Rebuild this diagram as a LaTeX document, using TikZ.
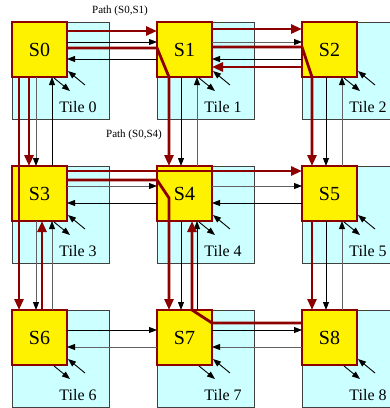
\documentclass[tikz,border=0pt]{standalone}
\usepackage{fontspec}
\setmainfont{Liberation Serif}
\usepackage{xcolor}
\usetikzlibrary{arrows.meta,calc}

\definecolor{tilecyan}{RGB}{204,255,255}
\definecolor{switchred}{RGB}{140,0,0}

\begin{document}
\begin{tikzpicture}[x=1pt,y=-1pt,
  tilebox/.style={draw=black!75,line width=0.8pt,fill=tilecyan,anchor=north west,minimum width=97pt,minimum height=97pt,inner sep=0pt,outer sep=0pt},
  switchbox/.style={draw=switchred,line width=1.6pt,fill=yellow,anchor=north west,minimum size=55pt,inner sep=0pt,outer sep=0pt,font=\fontsize{20}{24}\selectfont},
  tilelabel/.style={font=\fontsize{16}{19}\selectfont},
  pathlabel/.style={font=\fontsize{11}{13}\selectfont},
  link/.style={line width=0.9pt,-{Triangle[length=8pt,width=6pt,color=black]}},
  route/.style={draw=switchred,line width=2.8pt,-{Triangle[length=11pt,width=9pt]}}]
\useasboundingbox (0,0) rectangle (390,408);
\clip (0,0) rectangle (390,408);

% tiles and switches
\foreach \r in {0,1,2}
  \foreach \c in {0,1,2} {
    \pgfmathtruncatemacro{\n}{3*\r+\c}
    \node[tilebox] (T\n) at (12+145*\c,22+144*\r) {};
    \node[tilelabel] (L\n) at ([shift={(66,85)}]T\n.north west) {Tile \n};
    \node[switchbox] (S\n) at (12+145*\c,22+144*\r) {S\n};
  }

% links between neighbours
\foreach \a/\b/\cr/\cl in {0/1/black/black,1/2/black!62/black,3/4/black!62/black,4/5/black!62/black,6/7/black/black!62,7/8/black/black!62} {
  \draw[link,draw=\cr] ([shift={(0,20)}]S\a.north east) -- ([shift={(0,20)}]S\b.north west);
  \draw[link,draw=\cl] ([shift={(0,37)}]S\b.north west) -- ([shift={(0,37)}]S\a.north east);
}
\foreach \a/\b/\cd/\cu in {0/3/black!62/black,3/6/black!62/black!62,1/4/black/black!62,4/7/black/black,2/5/black/black!62,5/8/black/black!62} {
  \draw[link,draw=\cd] ([shift={(24,0)}]S\a.south west) -- ([shift={(24,0)}]S\b.north west);
  \draw[link,draw=\cu] ([shift={(40,0)}]S\b.north west) -- ([shift={(40,0)}]S\a.south west);
}

% switch <-> tile
\foreach \n in {0,...,8} {
  \draw[link] ([shift={(-13,1)}]S\n.south east) -- ([shift={(3,14)}]S\n.south east);
  \draw[link] ([shift={(18,8)}]S\n.south east) -- ([shift={(1,-6)}]S\n.south east);
}

% routed paths
\draw[route] ([shift={(0,9)}]S0.north east) -- ([shift={(0,9)}]S1.north west);
\draw[route] ([shift={(0,26)}]S0.north east) -- ([shift={(0,26)}]S1.north west)
  -- ([shift={(12,0)}]S1.south west) -- ([shift={(12,0)}]S4.north west);
\draw[route] ([shift={(0,7)}]S1.north east) -- ([shift={(0,7)}]S2.north west);
\draw[route] ([shift={(0,25)}]S1.north east) -- ([shift={(0,25)}]S2.north west)
  -- ([shift={(10,0)}]S2.south west) -- ([shift={(10,0)}]S5.north west);
\draw[route] ([shift={(0,45)}]S2.north west) -- ([shift={(0,45)}]S1.north east);
\draw[route] ([shift={(7,0)}]S0.south west) -- ([shift={(7,0)}]S6.north west);
\draw[route] ([shift={(17,0)}]S0.south west) -- ([shift={(17,0)}]S3.north west);
\draw[route] ([shift={(0,5)}]S3.north east) -- ([shift={(0,5)}]S5.north west);
\draw[route] ([shift={(0,14)}]S3.north east) -- ([shift={(0,14)}]S4.north west)
  -- ([shift={(12,32)}]S4.north west) -- ([shift={(12,0)}]S7.north west);
\draw[route] ([shift={(30,0)}]S6.north west) -- ([shift={(30,0)}]S3.south west);
\draw[route] ([shift={(10,0)}]S5.south west) -- ([shift={(10,0)}]S8.north west);
\draw[route] ([shift={(0,13)}]S8.north west) -- ([shift={(0,13)}]S7.north east)
  -- ([shift={(35,0)}]S7.north west) -- ([shift={(35,0)}]S4.south west);

\node[pathlabel] (P01) at (120,11) {Path (S0,S1)};
\node[pathlabel] (P04) at (134,135) {Path (S0,S4)};
\end{tikzpicture}
\end{document}
